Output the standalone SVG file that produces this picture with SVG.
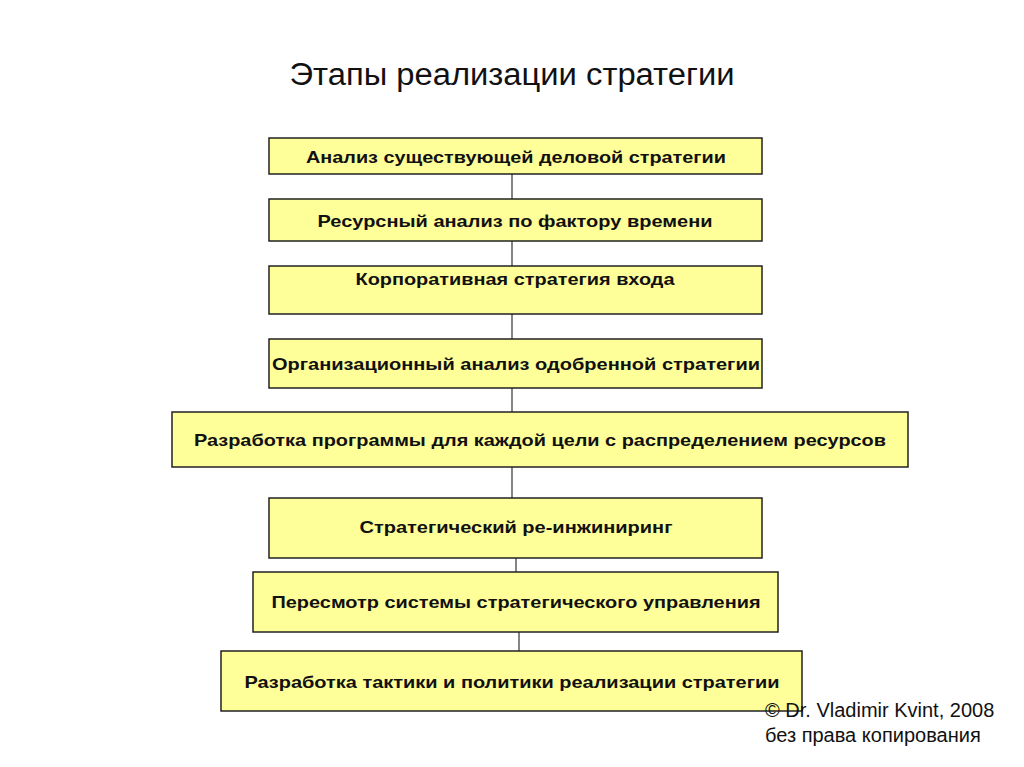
<svg xmlns="http://www.w3.org/2000/svg" width="1024" height="767" viewBox="0 0 1024 767">
<style>
.box{fill:#ffff99;stroke:#222;stroke-width:1.5}
.lbl{font-family:"Liberation Sans",Arial,sans-serif;font-weight:bold;font-size:17px;fill:#111;text-anchor:middle}
.conn line{stroke:#333;stroke-width:1.2}
.ttl{font-family:"Liberation Sans",Arial,sans-serif;font-size:31px;fill:#111;text-anchor:middle}
.note{font-family:"Liberation Sans",Arial,sans-serif;font-size:20px;fill:#111}
</style>
<rect width="1024" height="767" fill="#fff"/>
<text class="ttl" x="512" y="85" textLength="445" lengthAdjust="spacingAndGlyphs">Этапы реализации стратегии</text>
<g class="conn">
<line x1="512" y1="174" x2="512" y2="199"/>
<line x1="512" y1="241" x2="512" y2="266"/>
<line x1="512" y1="314" x2="512" y2="339"/>
<line x1="512" y1="388" x2="512" y2="412"/>
<line x1="512" y1="467" x2="512" y2="498"/>
<line x1="516" y1="558" x2="516" y2="572"/>
<line x1="519" y1="632" x2="519" y2="651"/>
</g>
<g id="n1"><rect class="box" x="269" y="138" width="493" height="36"/><text class="lbl" x="516" y="163" textLength="420" lengthAdjust="spacingAndGlyphs">Анализ существующей деловой стратегии</text></g>
<g id="n2"><rect class="box" x="269" y="199" width="493" height="42"/><text class="lbl" x="515" y="227" textLength="395" lengthAdjust="spacingAndGlyphs">Ресурсный анализ по фактору времени</text></g>
<g id="n3"><rect class="box" x="269" y="266" width="493" height="48"/><text class="lbl" x="515" y="285" textLength="319" lengthAdjust="spacingAndGlyphs">Корпоративная стратегия входа</text></g>
<g id="n4"><rect class="box" x="269" y="339" width="493" height="49"/><text class="lbl" x="516" y="370" textLength="488" lengthAdjust="spacingAndGlyphs">Организационный анализ одобренной стратегии</text></g>
<g id="n5"><rect class="box" x="172" y="412" width="736" height="55"/><text class="lbl" x="540" y="446" textLength="692" lengthAdjust="spacingAndGlyphs">Разработка программы для каждой цели с распределением ресурсов</text></g>
<g id="n6"><rect class="box" x="269" y="498" width="493" height="60"/><text class="lbl" x="516" y="533" textLength="313" lengthAdjust="spacingAndGlyphs">Стратегический ре-инжиниринг</text></g>
<g id="n7"><rect class="box" x="253" y="572" width="525" height="60"/><text class="lbl" x="516" y="608" textLength="489" lengthAdjust="spacingAndGlyphs">Пересмотр системы стратегического управления</text></g>
<g id="n8"><rect class="box" x="221" y="651" width="581" height="60"/><text class="lbl" x="512" y="688" textLength="535" lengthAdjust="spacingAndGlyphs">Разработка тактики и политики реализации стратегии</text></g>
<text class="note" x="765" y="717">© Dr. Vladimir Kvint, 2008</text>
<text class="note" x="765" y="742">без права копирования</text>
</svg>
